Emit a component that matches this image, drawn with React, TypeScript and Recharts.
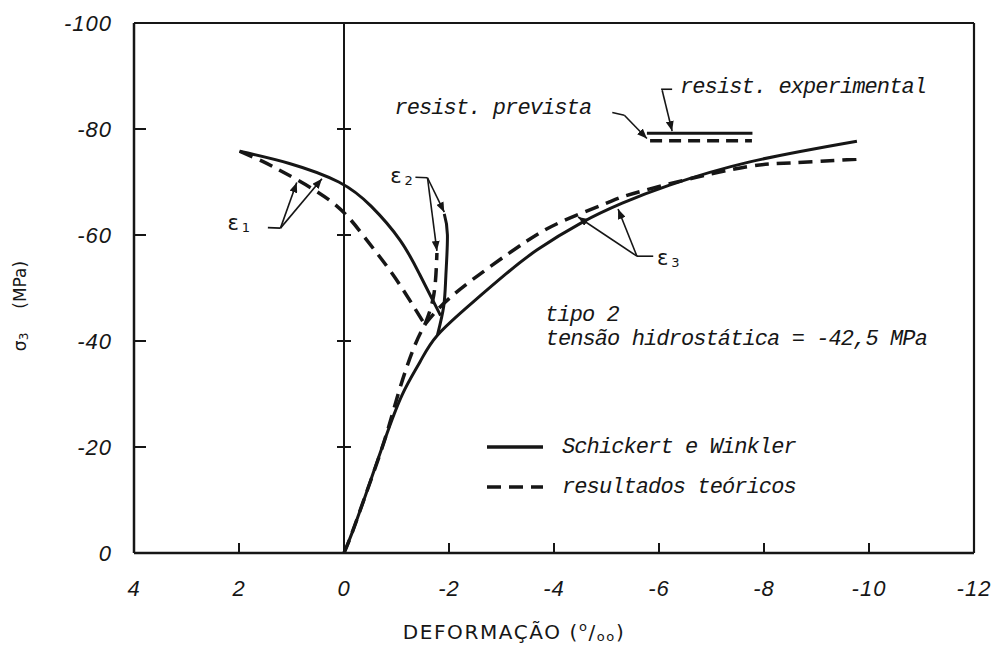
import React from 'react';
import {
  ComposedChart,
  Line,
  Scatter,
  XAxis,
  YAxis,
  ReferenceLine,
  Legend,
} from 'recharts';

const INK = '#161616';
const SCRIPT = "'Liberation Mono', 'DejaVu Sans Mono', monospace";
const SANS = "'DejaVu Sans', 'Liberation Sans', sans-serif";
const NUM = "'Liberation Sans', 'DejaVu Sans', sans-serif";

type Pt = { x: number; y: number };

// axis ticks: strain (per mille) and stress (MPa)
const strainTicks = [4, 2, 0, -2, -4, -6, -8, -10, -12];
const stressTicks = [-100, -80, -60, -40, -20, 0];

// Schickert e Winkler (experimental curves)
const expE3: Pt[] = [
  { x: 0, y: 0 }, { x: -0.15, y: -3.7 }, { x: -0.42, y: -11.2 }, { x: -0.77, y: -21.2 },
  { x: -1.11, y: -29.9 }, { x: -1.45, y: -36.1 }, { x: -1.78, y: -41.1 }, { x: -2.44, y: -47.2 },
  { x: -3.09, y: -52.7 }, { x: -3.68, y: -57.2 }, { x: -4.52, y: -62.3 }, { x: -5.3, y: -66.0 },
  { x: -6.2, y: -69.4 }, { x: -7.73, y: -73.8 }, { x: -9.77, y: -77.7 },
];
const expE2: Pt[] = [
  { x: -1.78, y: -41.1 }, { x: -1.9, y: -46.6 }, { x: -1.94, y: -52.3 }, { x: -1.97, y: -60.0 },
  { x: -1.91, y: -64.0 },
];
const expE1: Pt[] = [
  { x: 1.99, y: -75.8 }, { x: 1.04, y: -73.5 }, { x: 0.1, y: -70.0 }, { x: -0.52, y: -65.4 },
  { x: -1.07, y: -59.0 }, { x: -1.44, y: -52.6 }, { x: -1.84, y: -44.8 },
];

// resultados teóricos (model curves)
const theoBase: Pt[] = [
  { x: 0, y: 0 }, { x: -0.15, y: -3.7 }, { x: -0.42, y: -11.2 }, { x: -0.77, y: -21.2 },
  { x: -1.05, y: -30.6 }, { x: -1.33, y: -38.7 }, { x: -1.54, y: -43.1 },
];
const theoE3: Pt[] = [
  { x: -1.54, y: -43.1 }, { x: -2.0, y: -48.0 }, { x: -2.78, y: -54.0 }, { x: -3.49, y: -58.9 },
  { x: -4.14, y: -62.5 }, { x: -5.0, y: -66.0 }, { x: -5.68, y: -68.3 }, { x: -7.4, y: -72.4 },
  { x: -8.5, y: -73.6 }, { x: -9.76, y: -74.3 },
];
const theoE2: Pt[] = [
  { x: -1.54, y: -43.1 }, { x: -1.71, y: -48.7 }, { x: -1.77, y: -56.6 },
];
const theoE1: Pt[] = [
  { x: 1.99, y: -75.8 }, { x: 1.55, y: -73.9 }, { x: 1.11, y: -71.6 }, { x: 0.24, y: -66.3 },
  { x: -0.32, y: -60.5 }, { x: -0.68, y: -55.9 }, { x: -1.05, y: -50.8 }, { x: -1.54, y: -43.1 },
];

// strength levels
const resistExperimental: Pt[] = [{ x: -5.77, y: -79.2 }, { x: -7.78, y: -79.2 }];
const resistPrevista: Pt[] = [{ x: -5.83, y: -77.8 }, { x: -7.77, y: -77.8 }];

// leader hooks (plain) and arrows (with arrowhead)
const leaderHooks: Pt[][] = [
  [{ x: 1.45, y: -61.4 }, { x: 1.21, y: -61.3 }],
  [{ x: -1.36, y: -70.9 }, { x: -1.59, y: -70.8 }],
  [{ x: -5.89, y: -56.0 }, { x: -5.58, y: -56.0 }],
  [{ x: -6.25, y: -87.5 }, { x: -6.04, y: -87.5 }],
  [{ x: -5.11, y: -83.1 }, { x: -5.34, y: -82.6 }],
];
const leaderArrows: Pt[][] = [
  [{ x: 1.21, y: -61.3 }, { x: 0.9, y: -69.9 }],
  [{ x: 1.21, y: -61.3 }, { x: 0.42, y: -70.6 }],
  [{ x: -1.59, y: -70.8 }, { x: -1.77, y: -57.0 }],
  [{ x: -1.59, y: -70.8 }, { x: -1.91, y: -64.3 }],
  [{ x: -5.58, y: -56.0 }, { x: -4.46, y: -63.4 }],
  [{ x: -5.58, y: -56.0 }, { x: -5.22, y: -64.9 }],
  [{ x: -6.06, y: -87.3 }, { x: -6.25, y: -79.6 }],
  [{ x: -5.34, y: -82.6 }, { x: -5.77, y: -78.2 }],
];

// strain component labels
const strainLabels = [
  { x: 2.22, y: -60.9, sub: '1' },
  { x: -0.88, y: -69.8, sub: '2' },
  { x: -5.96, y: -54.4, sub: '3' },
];

// written notes
const notes = [
  { x: -6.4, y: -86.8, text: 'resist. experimental' },
  { x: -0.96, y: -82.8, text: 'resist. prevista' },
  { x: -3.83, y: -43.7, text: 'tipo 2' },
  { x: -3.84, y: -39.2, text: 'tensão hidrostática = -42,5 MPa' },
];

const zeroLineTicks = stressTicks
  .filter((v) => v !== stressTicks[0] && v !== stressTicks[stressTicks.length - 1])
  .map((y) => ({ x: 0, y }));

const isInnerStrain = (v: number) =>
  v !== strainTicks[0] && v !== 0 && v !== strainTicks[strainTicks.length - 1];
const isInnerStress = (v: number) =>
  v !== stressTicks[0] && v !== stressTicks[stressTicks.length - 1];

const numText = {
  fontFamily: NUM,
  fontStyle: 'italic' as const,
  fontSize: 22,
  fill: INK,
  letterSpacing: 1,
};

const BottomTick = (p: any) => {
  const v = p.payload.value;
  return (
    <g>
      {isInnerStrain(v) && (
        <line x1={p.x} y1={p.y} x2={p.x} y2={p.y - 10} stroke={INK} strokeWidth={2} />
      )}
      <text x={p.x} y={p.y + 35} textAnchor="middle" dominantBaseline="central" {...numText}>
        {String(v)}
      </text>
    </g>
  );
};

const TopTick = (p: any) => {
  const v = p.payload.value;
  if (!isInnerStrain(v)) return <g />;
  return <line x1={p.x} y1={p.y} x2={p.x} y2={p.y + 10} stroke={INK} strokeWidth={2} />;
};

const LeftTick = (p: any) => {
  const v = p.payload.value;
  return (
    <g>
      {isInnerStress(v) && (
        <line x1={p.x} y1={p.y} x2={p.x + 12} y2={p.y} stroke={INK} strokeWidth={2} />
      )}
      <text x={p.x - 22} y={p.y} textAnchor="end" dominantBaseline="central" {...numText}>
        {String(v)}
      </text>
    </g>
  );
};

const RightTick = (p: any) => {
  const v = p.payload.value;
  if (!isInnerStress(v)) return <g />;
  return <line x1={p.x} y1={p.y} x2={p.x - 12} y2={p.y} stroke={INK} strokeWidth={2} />;
};

const ZeroCross = (p: any) => (
  <line x1={p.cx - 7} y1={p.cy} x2={p.cx + 7} y2={p.cy} stroke={INK} strokeWidth={2} />
);

const NoteText = (p: any) => (
  <text
    x={p.cx}
    y={p.cy}
    fontFamily={SCRIPT}
    fontStyle="italic"
    fontSize={22}
    letterSpacing={-0.9}
    fill={INK}
  >
    {p.payload.text}
  </text>
);

const StrainLabel = (p: any) => (
  <text x={p.cx} y={p.cy} fontFamily={SANS} fontSize={21} fill={INK}>
    ε
    <tspan fontSize={13} dx={3} dy={2}>
      {p.payload.sub}
    </tspan>
  </text>
);

const StressAxisLabel = (p: any) => {
  const vb = p.viewBox;
  const cx = vb.x + vb.width - 114;
  const cy = vb.y + vb.height / 2 + 18;
  return (
    <text
      x={cx}
      y={cy}
      transform={`rotate(-90 ${cx} ${cy})`}
      textAnchor="middle"
      dominantBaseline="central"
      fontFamily={SANS}
      fontSize={17}
      fill={INK}
    >
      σ
      <tspan fontSize={12} dy={4}>3</tspan>
      <tspan dx={24} dy={-4}>(MPa)</tspan>
    </text>
  );
};

const StrainAxisLabel = (p: any) => {
  const vb = p.viewBox;
  const cx = vb.x + 380;
  const cy = vb.y + 86;
  return (
    <text x={cx} y={cy} textAnchor="middle" fontFamily={SANS} fontSize={20} letterSpacing={1.6} fill={INK}>
      DEFORMAÇÃO (
      <tspan fontSize={13} dy={-8}>o</tspan>
      <tspan dy={8}>/</tspan>
      <tspan fontSize={13} dy={2}>oo</tspan>
      <tspan dy={-2}>)</tspan>
    </text>
  );
};

const LegendRows = (props: any) => {
  const items = (props.payload || []).filter((it: any) => it.type !== 'none');
  return (
    <div style={{ fontFamily: SCRIPT, fontStyle: 'italic', fontSize: 22, letterSpacing: -0.9, color: INK }}>
      {items.map((it: any) => (
        <div key={it.value} style={{ display: 'flex', alignItems: 'center', height: 40 }}>
          <svg width={56} height={10} style={{ display: 'block' }}>
            <line
              x1={0}
              y1={5}
              x2={56}
              y2={5}
              stroke={INK}
              strokeWidth={3.5}
              strokeDasharray={it.payload && it.payload.strokeDasharray}
            />
          </svg>
          <span style={{ marginLeft: 19, whiteSpace: 'nowrap' }}>{it.value}</span>
        </div>
      ))}
    </div>
  );
};

const DASH = '14 8';

export default function App() {
  const common = {
    xAxisId: 'x',
    yAxisId: 'y',
    dataKey: 'y',
    dot: false,
    activeDot: false,
    isAnimationActive: false,
    stroke: INK,
  } as const;

  return (
    <div style={{ position: 'relative', width: 993, height: 649, background: '#fff' }}>
      <svg width={0} height={0} style={{ position: 'absolute' }}>
        <defs>
          <marker
            id="leader-head"
            viewBox="0 0 10 8"
            refX={10}
            refY={4}
            markerWidth={10}
            markerHeight={8}
            markerUnits="userSpaceOnUse"
            orient="auto"
          >
            <path d="M0,0 L10,4 L0,8 Z" fill={INK} />
          </marker>
        </defs>
      </svg>
      <ComposedChart width={993} height={649} margin={{ top: 14, right: 26, bottom: 103, left: 125 }}>
        <XAxis
          xAxisId="x"
          dataKey="x"
          type="number"
          domain={[-12, 4]}
          reversed
          ticks={strainTicks}
          interval={0}
          height={1}
          tickSize={0}
          tickMargin={0}
          tickLine={false}
          axisLine={{ stroke: INK, strokeWidth: 2.5 }}
          tick={BottomTick}
          label={StrainAxisLabel}
        />
        <XAxis
          xAxisId="top"
          orientation="top"
          type="number"
          domain={[-12, 4]}
          reversed
          ticks={strainTicks}
          interval={0}
          height={1}
          tickSize={0}
          tickMargin={0}
          tickLine={false}
          axisLine={{ stroke: INK, strokeWidth: 2.2 }}
          tick={TopTick}
        />
        <YAxis
          yAxisId="y"
          dataKey="y"
          type="number"
          domain={[-100, 0]}
          reversed
          ticks={stressTicks}
          interval={0}
          width={1}
          tickSize={0}
          tickMargin={0}
          tickLine={false}
          axisLine={{ stroke: INK, strokeWidth: 2.5 }}
          tick={LeftTick}
          label={StressAxisLabel}
        />
        <YAxis
          yAxisId="r"
          orientation="right"
          type="number"
          domain={[-100, 0]}
          reversed
          ticks={stressTicks}
          interval={0}
          width={1}
          tickSize={0}
          tickMargin={0}
          tickLine={false}
          axisLine={{ stroke: INK, strokeWidth: 2.2 }}
          tick={RightTick}
        />

        <ReferenceLine xAxisId="x" yAxisId="y" x={0} stroke={INK} strokeWidth={2} />
        <Scatter
          xAxisId="x"
          yAxisId="y"
          dataKey="y"
          data={zeroLineTicks}
          shape={ZeroCross}
          legendType="none"
          isAnimationActive={false}
        />

        <Line {...common} name="Schickert e Winkler" data={expE3} type="natural" strokeWidth={3} />
        <Line {...common} name="resultados teóricos" data={theoE3} type="natural" strokeWidth={3.5} strokeDasharray={DASH} />
        <Line {...common} data={expE2} type="natural" strokeWidth={3} legendType="none" />
        <Line {...common} data={expE1} type="natural" strokeWidth={3} legendType="none" />
        <Line {...common} data={theoBase} type="natural" strokeWidth={3.5} strokeDasharray={DASH} legendType="none" />
        <Line {...common} data={theoE2} type="natural" strokeWidth={3.5} strokeDasharray={DASH} legendType="none" />
        <Line {...common} data={theoE1} type="natural" strokeWidth={3.5} strokeDasharray={DASH} legendType="none" />
        <Line {...common} data={resistExperimental} type="linear" strokeWidth={3} legendType="none" />
        <Line {...common} data={resistPrevista} type="linear" strokeWidth={3.5} strokeDasharray="12 7" legendType="none" />

        {leaderHooks.map((pts, i) => (
          <Line key={`hook-${i}`} {...common} data={pts} type="linear" strokeWidth={1.6} legendType="none" />
        ))}
        {leaderArrows.map((pts, i) => (
          <Line
            key={`arrow-${i}`}
            {...common}
            data={pts}
            type="linear"
            strokeWidth={1.6}
            legendType="none"
            markerEnd="url(#leader-head)"
          />
        ))}

        <Scatter
          xAxisId="x"
          yAxisId="y"
          dataKey="y"
          data={strainLabels}
          shape={StrainLabel}
          legendType="none"
          isAnimationActive={false}
        />
        <Scatter
          xAxisId="x"
          yAxisId="y"
          dataKey="y"
          data={notes}
          shape={NoteText}
          legendType="none"
          isAnimationActive={false}
        />

        <Legend
          layout="vertical"
          align="center"
          verticalAlign="middle"
          content={LegendRows}
          wrapperStyle={{ left: 479, top: 419, width: 360 }}
        />
      </ComposedChart>
    </div>
  );
}
